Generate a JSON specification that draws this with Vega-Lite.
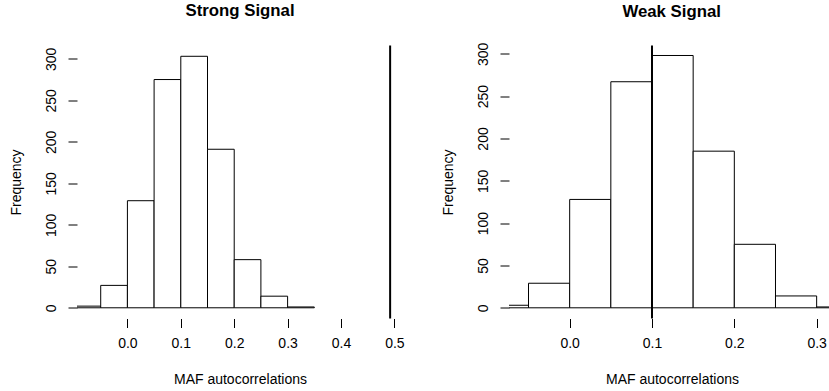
{
  "$schema": "https://vega.github.io/schema/vega-lite/v6.json",
  "autosize": {"type": "pad"},
  "padding": {"left": 9, "top": 2.5, "right": 0, "bottom": 0},
  "background": "white",
  "spacing": 106,
  "bounds": "flush",
  "config": {
    "view": {"stroke": null},
    "font": "Liberation Sans",
    "axis": {
      "domain": false,
      "grid": false,
      "tickSize": 9,
      "tickColor": "black",
      "tickWidth": 1,
      "labelFontSize": 14,
      "labelColor": "black",
      "labelFont": "Liberation Sans",
      "labelFlush": false,
      "labelOverlap": false,
      "titleFontSize": 14,
      "titleFontWeight": "normal",
      "titleColor": "black",
      "titleFont": "Liberation Sans"
    }
  },
  "datasets": {
    "strong": [
      {"bin_start": -0.10, "bin_end": -0.05, "count": 2},
      {"bin_start": -0.05, "bin_end": 0.00, "count": 27},
      {"bin_start": 0.00, "bin_end": 0.05, "count": 129},
      {"bin_start": 0.05, "bin_end": 0.10, "count": 275},
      {"bin_start": 0.10, "bin_end": 0.15, "count": 303},
      {"bin_start": 0.15, "bin_end": 0.20, "count": 191},
      {"bin_start": 0.20, "bin_end": 0.25, "count": 58},
      {"bin_start": 0.25, "bin_end": 0.30, "count": 14},
      {"bin_start": 0.30, "bin_end": 0.35, "count": 1}
    ],
    "weak": [
      {"bin_start": -0.10, "bin_end": -0.05, "count": 3},
      {"bin_start": -0.05, "bin_end": 0.00, "count": 29},
      {"bin_start": 0.00, "bin_end": 0.05, "count": 128},
      {"bin_start": 0.05, "bin_end": 0.10, "count": 267},
      {"bin_start": 0.10, "bin_end": 0.15, "count": 298},
      {"bin_start": 0.15, "bin_end": 0.20, "count": 185},
      {"bin_start": 0.20, "bin_end": 0.25, "count": 75},
      {"bin_start": 0.25, "bin_end": 0.30, "count": 14},
      {"bin_start": 0.30, "bin_end": 0.35, "count": 1}
    ],
    "strong_signal": [{"value": 0.492}],
    "weak_signal": [{"value": 0.1}]
  },
  "hconcat": [
    {
      "width": 326,
      "height": 273,
      "title": {"text": "Strong Signal", "fontSize": 16.8, "fontWeight": "bold", "font": "Liberation Sans", "color": "black", "anchor": "middle", "frame": "group", "baseline": "alphabetic", "offset": 11.6},
      "layer": [
        {
          "data": {"name": "strong"},
          "mark": {"type": "rect", "fill": "white", "stroke": "black", "strokeWidth": 1, "clip": true},
          "encoding": {
            "x": {"field": "bin_start", "type": "quantitative",
              "scale": {"domain": [-0.0944, 0.5161], "nice": false, "zero": false},
              "axis": {"values": [0, 0.1, 0.2, 0.3, 0.4, 0.5], "format": ".1f", "labelBaseline": "alphabetic", "labelPadding": 19.5,
                "title": "MAF autocorrelations", "titleBaseline": "alphabetic", "titleAlign": "center", "titleX": 163, "titleY": 64.5}},
            "x2": {"field": "bin_end"},
            "y": {"field": "count", "type": "quantitative",
              "scale": {"domain": [-12.9, 316], "nice": false, "zero": false},
              "axis": {"values": [0, 50, 100, 150, 200, 250, 300], "labelAngle": -90, "labelAlign": "center", "labelBaseline": "alphabetic", "labelPadding": 12.3,
                "title": "Frequency", "titleAngle": -90, "titleAlign": "center", "titleBaseline": "alphabetic", "titleX": -56.3, "titleY": 136.5}},
            "y2": {"datum": 0}
          }
        },
        {
          "data": {"name": "strong_signal"},
          "mark": {"type": "rule", "color": "black", "strokeWidth": 2},
          "encoding": {"x": {"field": "value", "type": "quantitative"}}
        },
        {
          "mark": {"type": "rule", "color": "black", "strokeWidth": 1},
          "encoding": {"x": {"datum": -0.0944}, "y": {"datum": 0}, "y2": {"datum": 300}}
        },
        {
          "mark": {"type": "rule", "color": "black", "strokeWidth": 1},
          "encoding": {"y": {"datum": -12.9}, "x": {"datum": 0}, "x2": {"datum": 0.5}}
        }
      ]
    },
    {
      "width": 320,
      "height": 273,
      "title": {"text": "Weak Signal", "fontSize": 16.8, "fontWeight": "bold", "font": "Liberation Sans", "color": "black", "anchor": "middle", "frame": "group", "baseline": "alphabetic", "offset": 8.2, "dx": 2.7},
      "layer": [
        {
          "data": {"name": "weak"},
          "mark": {"type": "rect", "fill": "white", "stroke": "black", "strokeWidth": 1, "clip": true},
          "encoding": {
            "x": {"field": "bin_start", "type": "quantitative",
              "scale": {"domain": [-0.0737, 0.315], "nice": false, "zero": false},
              "axis": {"values": [0, 0.1, 0.2, 0.3], "format": ".1f", "labelBaseline": "alphabetic", "labelPadding": 19.5,
                "title": "MAF autocorrelations", "titleBaseline": "alphabetic", "titleAlign": "center", "titleX": 163, "titleY": 64.5}},
            "x2": {"field": "bin_end"},
            "y": {"field": "count", "type": "quantitative",
              "scale": {"domain": [-12.64, 309.8], "nice": false, "zero": false},
              "axis": {"values": [0, 50, 100, 150, 200, 250, 300], "labelAngle": -90, "labelAlign": "center", "labelBaseline": "alphabetic", "labelPadding": 12.3,
                "title": "Frequency", "titleAngle": -90, "titleAlign": "center", "titleBaseline": "alphabetic", "titleX": -56.3, "titleY": 136.5}},
            "y2": {"datum": 0}
          }
        },
        {
          "data": {"name": "weak_signal"},
          "mark": {"type": "rule", "color": "black", "strokeWidth": 2},
          "encoding": {"x": {"field": "value", "type": "quantitative"}}
        },
        {
          "mark": {"type": "rule", "color": "black", "strokeWidth": 1},
          "encoding": {"x": {"datum": -0.0737}, "y": {"datum": 0}, "y2": {"datum": 300}}
        },
        {
          "mark": {"type": "rule", "color": "black", "strokeWidth": 1},
          "encoding": {"y": {"datum": -12.64}, "x": {"datum": 0}, "x2": {"datum": 0.3}}
        }
      ]
    }
  ]
}
